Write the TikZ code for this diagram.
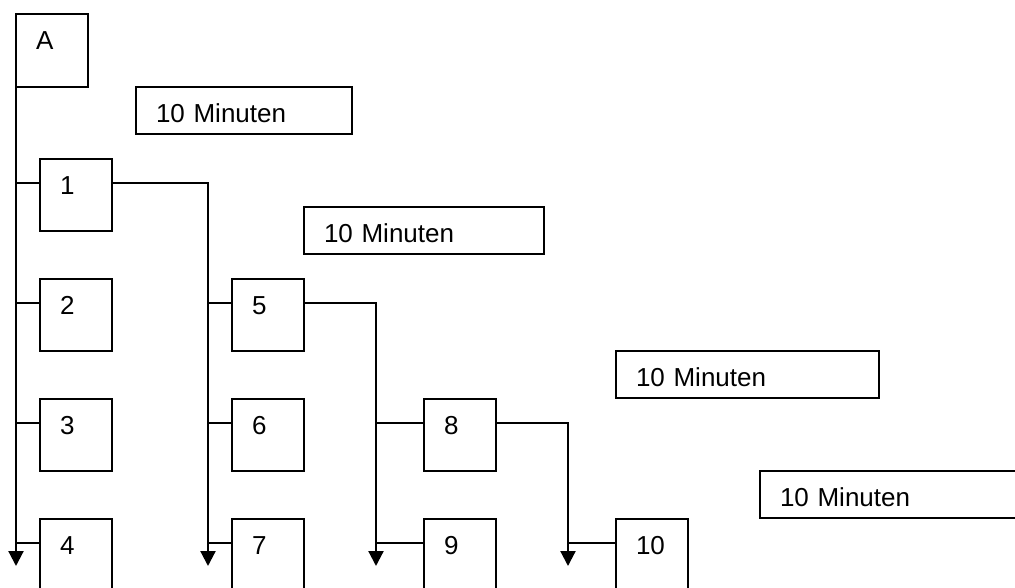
\documentclass[tikz,border=0pt]{standalone}
\usepackage{fontspec}
\setmainfont{Liberation Sans}
\usetikzlibrary{arrows.meta,calc}
\begin{document}
\begin{tikzpicture}[x=1pt,y=-1pt,
  box/.style={draw, line width=2.2pt, anchor=north west, outer sep=0pt,
    inner xsep=20pt, inner ysep=0pt, align=left, text height=35pt,
    font=\fontsize{26}{30}\selectfont},
  stepbox/.style={box, text width=32pt, text depth=37pt},
  timebox/.style={box, text width=#1, text depth=12pt},
  link/.style={line width=2.2pt},
  flow/.style={link, -{Triangle[width=15pt,length=15pt]}}]
\useasboundingbox (0,0) rectangle (1015,587);
\clip (0,0) rectangle (1015,587);

% step boxes
\node[stepbox, text depth=38pt] (a) at (16,14) {A};
\node[stepbox] (b1) at (40,159) {1};
\node[stepbox] (b2) at (40,279) {2};
\node[stepbox] (b3) at (40,399) {3};
\node[stepbox] (b4) at (40,519) {4};
\node[stepbox] (b5) at (232,279) {5};
\node[stepbox] (b6) at (232,399) {6};
\node[stepbox] (b7) at (232,519) {7};
\node[stepbox] (b8) at (424,399) {8};
\node[stepbox] (b9) at (424,519) {9};
\node[stepbox] (b10) at (616,519) {10};

% duration boxes
\node[timebox=176pt] (t1) at (136,87) {10 Minuten};
\node[timebox=200pt] (t2) at (304,207) {10 Minuten};
\node[timebox=223pt] (t3) at (616,351) {10 Minuten};
\node[timebox=240pt] (t4) at (760,471) {10 Minuten};

% ends of the vertical flow lines
\coordinate (e0) at (16,566);
\coordinate (e1) at (208,566);
\coordinate (e2) at (376,566);
\coordinate (e3) at (568,566);

% vertical flow lines
\draw[flow] (a.south west) -- (e0);
\draw[flow] ($(b1.north east)+(0,24)$) -| (e1);
\draw[flow] ($(b5.north east)+(0,24)$) -| (e2);
\draw[flow] ($(b8.north east)+(0,24)$) -| (e3);

% branches into the boxes
\foreach \b in {b1,b2,b3,b4}
  \draw[link] ($(\b.north west)+(0,24)$) -- ($(\b.north west -| e0)+(0,24)$);
\foreach \b in {b5,b6,b7}
  \draw[link] ($(\b.north west)+(0,24)$) -- ($(\b.north west -| e1)+(0,24)$);
\foreach \b in {b8,b9}
  \draw[link] ($(\b.north west)+(0,24)$) -- ($(\b.north west -| e2)+(0,24)$);
\draw[link] ($(b10.north west)+(0,24)$) -- ($(b10.north west -| e3)+(0,24)$);
\end{tikzpicture}
\end{document}
